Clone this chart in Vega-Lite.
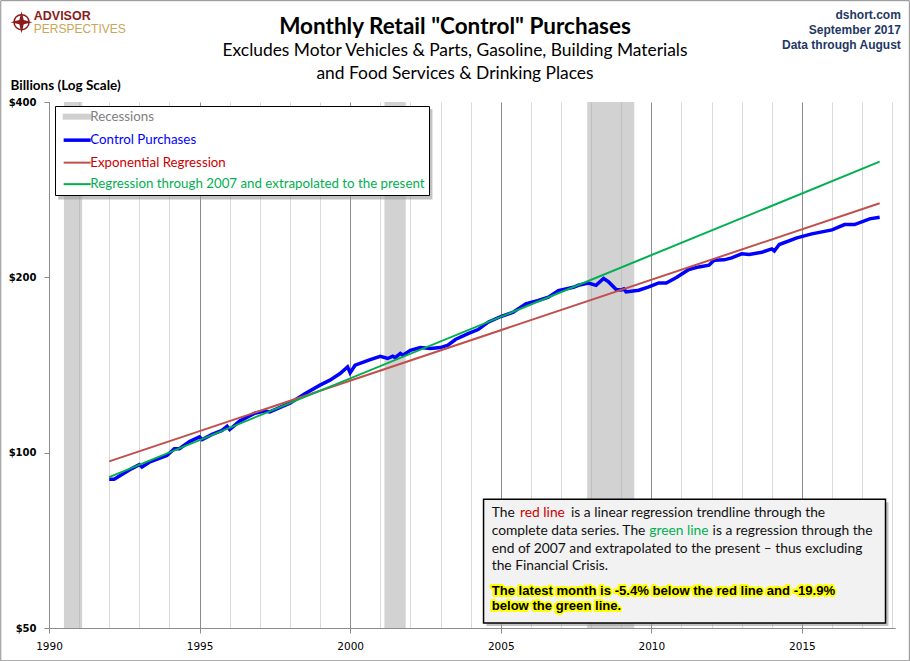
{
  "$schema": "https://vega.github.io/schema/vega-lite/v6.json",
  "width": 846,
  "height": 526,
  "autosize": "none",
  "padding": {"left": 49, "top": 102, "right": 15, "bottom": 33},
  "background": "white",
  "config": {"view": {"stroke": null}, "font": "Lato"},
  "title": {
    "text": "Monthly Retail \"Control\" Purchases",
    "subtitle": ["Excludes Motor Vehicles & Parts, Gasoline, Building Materials", "and Food Services & Drinking Places"],
    "anchor": "middle",
    "frame": "group",
    "dx": -17,
    "offset": -82,
    "font": "Lato",
    "fontSize": 22.5,
    "fontWeight": "bold",
    "color": "black",
    "subtitleFont": "Lato",
    "subtitleFontSize": 17.4,
    "subtitleColor": "black",
    "subtitleLineHeight": 22.6,
    "subtitlePadding": 4
  },
  "datasets": {
    "recessions": [
      {"start": "1990-07-01", "end": "1991-02-07"},
      {"start": "2001-02-20", "end": "2001-11-05"},
      {"start": "2007-11-15", "end": "2009-06-08"}
    ],
    "purchases": [
      {"date": "1992-01-01", "value": 90.0},
      {"date": "1992-03-01", "value": 90.0},
      {"date": "1992-10-01", "value": 93.9},
      {"date": "1993-01-01", "value": 95.4},
      {"date": "1993-02-01", "value": 94.5},
      {"date": "1993-05-01", "value": 96.3},
      {"date": "1993-12-01", "value": 98.9},
      {"date": "1994-03-01", "value": 101.6},
      {"date": "1994-05-01", "value": 101.6},
      {"date": "1994-09-01", "value": 104.5},
      {"date": "1995-01-01", "value": 106.4},
      {"date": "1995-02-01", "value": 105.3},
      {"date": "1995-06-01", "value": 107.5},
      {"date": "1995-10-01", "value": 109.2},
      {"date": "1995-12-01", "value": 111.0},
      {"date": "1996-01-01", "value": 109.6},
      {"date": "1996-05-01", "value": 113.3},
      {"date": "1996-11-01", "value": 116.9},
      {"date": "1997-03-01", "value": 117.9},
      {"date": "1997-05-01", "value": 117.5},
      {"date": "1998-01-01", "value": 121.6},
      {"date": "1998-07-01", "value": 126.2},
      {"date": "1999-01-01", "value": 130.6},
      {"date": "1999-05-01", "value": 133.2},
      {"date": "1999-09-01", "value": 136.7},
      {"date": "1999-12-01", "value": 140.4},
      {"date": "2000-01-01", "value": 137.1},
      {"date": "2000-03-01", "value": 141.3},
      {"date": "2000-09-01", "value": 144.5},
      {"date": "2001-01-01", "value": 146.4},
      {"date": "2001-04-01", "value": 145.1},
      {"date": "2001-06-01", "value": 146.4},
      {"date": "2001-07-01", "value": 145.6},
      {"date": "2001-09-01", "value": 148.0},
      {"date": "2001-10-01", "value": 147.0},
      {"date": "2002-01-01", "value": 149.9},
      {"date": "2002-05-01", "value": 151.5},
      {"date": "2002-09-01", "value": 150.9},
      {"date": "2003-01-01", "value": 151.5},
      {"date": "2003-04-01", "value": 152.9},
      {"date": "2003-07-01", "value": 156.4},
      {"date": "2003-12-01", "value": 160.1},
      {"date": "2004-04-01", "value": 162.7},
      {"date": "2004-08-01", "value": 167.5},
      {"date": "2005-01-01", "value": 171.3},
      {"date": "2005-06-01", "value": 174.2},
      {"date": "2005-11-01", "value": 180.1},
      {"date": "2006-04-01", "value": 182.5},
      {"date": "2006-08-01", "value": 184.9},
      {"date": "2006-12-01", "value": 189.8},
      {"date": "2007-06-01", "value": 192.3},
      {"date": "2007-08-01", "value": 193.8},
      {"date": "2007-12-01", "value": 195.6},
      {"date": "2008-03-01", "value": 193.8},
      {"date": "2008-06-01", "value": 199.1},
      {"date": "2008-08-01", "value": 196.4},
      {"date": "2008-11-01", "value": 190.6},
      {"date": "2009-01-01", "value": 190.3},
      {"date": "2009-02-01", "value": 191.1},
      {"date": "2009-03-01", "value": 188.8},
      {"date": "2009-08-01", "value": 190.1},
      {"date": "2009-12-01", "value": 192.6},
      {"date": "2010-04-01", "value": 195.6},
      {"date": "2010-07-01", "value": 195.6},
      {"date": "2010-11-01", "value": 199.8},
      {"date": "2011-04-01", "value": 206.3},
      {"date": "2011-08-01", "value": 208.4},
      {"date": "2011-12-01", "value": 209.8},
      {"date": "2012-02-01", "value": 214.0},
      {"date": "2012-06-01", "value": 214.3},
      {"date": "2012-09-01", "value": 216.0},
      {"date": "2013-01-01", "value": 219.5},
      {"date": "2013-04-01", "value": 219.0},
      {"date": "2013-09-01", "value": 220.8},
      {"date": "2014-01-01", "value": 223.8},
      {"date": "2014-02-01", "value": 222.0},
      {"date": "2014-04-01", "value": 227.7},
      {"date": "2014-11-01", "value": 233.8},
      {"date": "2015-05-01", "value": 237.5},
      {"date": "2016-01-01", "value": 241.3},
      {"date": "2016-06-01", "value": 246.4},
      {"date": "2016-10-01", "value": 246.4},
      {"date": "2017-04-01", "value": 252.0},
      {"date": "2017-08-01", "value": 253.6}
    ],
    "expRegression": [
      {"date": "1992-01-01", "value": 96.6},
      {"date": "2017-08-01", "value": 268.0}
    ],
    "regression2007": [
      {"date": "1992-01-01", "value": 90.8},
      {"date": "2017-08-01", "value": 316.0}
    ]
  },
  "layer": [
    {
      "data": {"name": "recessions"},
      "mark": {"type": "rect", "color": "#a6a6a6", "opacity": 0.5},
      "encoding": {
        "x": {
          "field": "start",
          "type": "temporal",
          "scale": {"type": "utc", "domain": [{"year": 1990, "month": 1, "date": 1, "utc": true}, {"year": 2018, "month": 2, "date": 3, "utc": true}], "nice": false},
          "axis": {
            "title": null,
            "tickCount": {"interval": "year", "step": 1},
            "labelExpr": "utcyear(datum.value) % 5 === 0 ? utcFormat(datum.value, '%Y') : ''",
            "gridColor": {"condition": {"test": "utcyear(datum.value) % 5 === 0", "value": "#8c8c8c"}, "value": "#d9d9d9"},
            "tickColor": {"condition": {"test": "utcyear(datum.value) % 5 === 0", "value": "#8c8c8c"}, "value": "transparent"},
            "domainColor": "#8c8c8c",
            "tickSize": 5,
            "labelFont": "DejaVu Sans",
            "labelFontSize": 10.5,
            "labelColor": "black",
            "labelPadding": 8,
            "labelFlush": false,
            "labelOverlap": false,
            "labelBound": false
          }
        },
        "x2": {"field": "end"}
      }
    },
    {
      "data": {"values": [{}]},
      "mark": {"type": "rect", "fill": "#9a9a9a", "opacity": 0.6},
      "encoding": {
        "x": {"datum": {"year": 1990, "month": 4, "date": 22, "utc": true}, "type": "temporal"},
        "x2": {"datum": {"year": 2002, "month": 9, "date": 25, "utc": true}},
        "y": {"datum": 388.8, "type": "quantitative"},
        "y2": {"datum": 272.0}
      }
    },
    {
      "data": {"name": "purchases"},
      "mark": {"type": "line", "strokeWidth": 3.5},
      "encoding": {
        "x": {"field": "date", "type": "temporal"},
        "y": {
          "field": "value",
          "type": "quantitative",
          "scale": {"type": "log", "domain": [50, 400], "nice": false},
          "axis": {
            "title": "Billions (Log Scale)",
            "titleAngle": 0,
            "titleAlign": "left",
            "titleBaseline": "middle",
            "titleX": -39,
            "titleY": -17,
            "titleFont": "Lato",
            "titleFontSize": 13.5,
            "titleFontWeight": "bold",
            "titleColor": "black",
            "values": [50, 100, 200, 400],
            "labelExpr": "'$' + datum.value",
            "labelFont": "DejaVu Sans",
            "labelFontSize": 10,
            "labelFontWeight": "bold",
            "labelColor": "black",
            "labelFlush": false,
            "gridColor": "#8c8c8c",
            "domainColor": "#8c8c8c",
            "tickColor": "#8c8c8c",
            "tickSize": 5,
            "labelPadding": 8
          }
        },
        "color": {
          "datum": "Control Purchases",
          "type": "nominal",
          "scale": {
            "domain": ["Recessions", "Control Purchases", "Exponential Regression", "Regression through 2007 and extrapolated to the present"],
            "range": ["#d0d0d0", "#0000ff", "#c0504d", "#00b050"]
          },
          "legend": {
            "title": null,
            "orient": "none",
            "legendX": 6,
            "legendY": 4,
            "fillColor": "white",
            "strokeColor": "black",
            "padding": 4,
            "symbolOffset": 11.5,
            "symbolSize": 400,
            "symbolType": {"expr": "datum.label === 'Recessions' ? 'M-1.3,-0.15H1.3V0.15H-1.3Z' : 'M-1.35,0H1.35'"},
            "symbolStrokeWidth": {"expr": "datum.label === 'Control Purchases' ? 3.5 : datum.label === 'Recessions' ? 3 : 2"},
            "labelOffset": 6.5,
            "rowPadding": 7.5,
            "labelFont": "Lato",
            "labelFontSize": 13.3,
            "labelLimit": 400,
            "labelColor": {"expr": "datum.label === 'Recessions' ? '#808080' : datum.label === 'Control Purchases' ? '#0000ff' : datum.label === 'Exponential Regression' ? '#cc0000' : '#00b050'"}
          }
        }
      }
    },
    {
      "data": {"name": "expRegression"},
      "mark": {"type": "line", "strokeWidth": 2},
      "encoding": {
        "x": {"field": "date", "type": "temporal"},
        "y": {"field": "value", "type": "quantitative"},
        "color": {"datum": "Exponential Regression", "type": "nominal"}
      }
    },
    {
      "data": {"name": "regression2007"},
      "mark": {"type": "line", "strokeWidth": 2},
      "encoding": {
        "x": {"field": "date", "type": "temporal"},
        "y": {"field": "value", "type": "quantitative"},
        "color": {"datum": "Regression through 2007 and extrapolated to the present", "type": "nominal"}
      }
    },
    {
      "data": {"values": [{}]},
      "mark": {"type": "rect", "fill": "#9a9a9a", "opacity": 0.6},
      "encoding": {
        "x": {"datum": {"year": 2004, "month": 7, "date": 12, "utc": true}, "type": "temporal"},
        "x2": {"datum": {"year": 2017, "month": 11, "date": 16, "utc": true}},
        "y": {"datum": 82.2, "type": "quantitative"},
        "y2": {"datum": 50.4}
      }
    },
    {
      "data": {"values": [{}]},
      "mark": {"type": "rect", "fill": "#f2f2f2", "stroke": "black", "strokeWidth": 1.5},
      "encoding": {
        "x": {"datum": {"year": 2004, "month": 6, "date": 6, "utc": true}, "type": "temporal"},
        "x2": {"datum": {"year": 2017, "month": 10, "date": 11, "utc": true}},
        "y": {"datum": 83.2, "type": "quantitative"},
        "y2": {"datum": 51.0}
      }
    },
    {
      "data": {"values": [{"t": "The"}]},
      "mark": {"type": "text", "align": "left", "baseline": "alphabetic", "font": "Lato", "fontSize": 13.8, "color": "#111111"},
      "encoding": {
        "x": {"datum": {"year": 2004, "month": 9, "date": 13, "utc": true}, "type": "temporal"},
        "y": {"datum": 77.55, "type": "quantitative"},
        "text": {"field": "t"}
      }
    },
    {
      "data": {"values": [{"t": "red line"}]},
      "mark": {"type": "text", "align": "left", "baseline": "alphabetic", "font": "Lato", "fontSize": 13.8, "color": "#cc0000"},
      "encoding": {
        "x": {"datum": {"year": 2005, "month": 8, "date": 23, "utc": true}, "type": "temporal"},
        "y": {"datum": 77.55, "type": "quantitative"},
        "text": {"field": "t"}
      }
    },
    {
      "data": {"values": [{"t": "is a  linear regression trendline  through the"}]},
      "mark": {"type": "text", "align": "left", "baseline": "alphabetic", "font": "Lato", "fontSize": 13.8, "color": "#111111"},
      "encoding": {
        "x": {"datum": {"year": 2007, "month": 5, "date": 3, "utc": true}, "type": "temporal"},
        "y": {"datum": 77.55, "type": "quantitative"},
        "text": {"field": "t"}
      }
    },
    {
      "data": {"values": [{"t": "complete data series. The"}]},
      "mark": {"type": "text", "align": "left", "baseline": "alphabetic", "font": "Lato", "fontSize": 13.8, "color": "#111111"},
      "encoding": {
        "x": {"datum": {"year": 2004, "month": 9, "date": 13, "utc": true}, "type": "temporal"},
        "y": {"datum": 72.35, "type": "quantitative"},
        "text": {"field": "t"}
      }
    },
    {
      "data": {"values": [{"t": "green line"}]},
      "mark": {"type": "text", "align": "left", "baseline": "alphabetic", "font": "Lato", "fontSize": 13.8, "color": "#00b050"},
      "encoding": {
        "x": {"datum": {"year": 2009, "month": 12, "date": 7, "utc": true}, "type": "temporal"},
        "y": {"datum": 72.35, "type": "quantitative"},
        "text": {"field": "t"}
      }
    },
    {
      "data": {"values": [{"t": "is a regression through the"}]},
      "mark": {"type": "text", "align": "left", "baseline": "alphabetic", "font": "Lato", "fontSize": 13.8, "color": "#111111"},
      "encoding": {
        "x": {"datum": {"year": 2012, "month": 1, "date": 14, "utc": true}, "type": "temporal"},
        "y": {"datum": 72.35, "type": "quantitative"},
        "text": {"field": "t"}
      }
    },
    {
      "data": {"values": [{"t": ["end of 2007  and extrapolated to the present  \u2013 thus excluding", "the Financial Crisis."]}]},
      "mark": {"type": "text", "align": "left", "baseline": "alphabetic", "font": "Lato", "fontSize": 13.8, "lineHeight": 17.7, "color": "#111111"},
      "encoding": {
        "x": {"datum": {"year": 2004, "month": 9, "date": 13, "utc": true}, "type": "temporal"},
        "y": {"datum": 67.37, "type": "quantitative"},
        "text": {"field": "t"}
      }
    },
    {
      "data": {"values": [{"t": ["The latest month is -5.4%  below the red line and -19.9%", "below the green line."]}]},
      "mark": {"type": "text", "align": "left", "baseline": "alphabetic", "font": "Liberation Sans", "fontSize": 13.1, "fontWeight": "bold", "lineHeight": 15.7, "stroke": "#ffff00", "strokeWidth": 4, "strokeJoin": "round", "color": "#ffff00"},
      "encoding": {
        "x": {"datum": {"year": 2004, "month": 9, "date": 13, "utc": true}, "type": "temporal"},
        "y": {"datum": 57.06, "type": "quantitative"},
        "text": {"field": "t"}
      }
    },
    {
      "data": {"values": [{"t": ["The latest month is -5.4%  below the red line and -19.9%", "below the green line."]}]},
      "mark": {"type": "text", "align": "left", "baseline": "alphabetic", "font": "Liberation Sans", "fontSize": 13.1, "fontWeight": "bold", "lineHeight": 15.7, "color": "black"},
      "encoding": {
        "x": {"datum": {"year": 2004, "month": 9, "date": 13, "utc": true}, "type": "temporal"},
        "y": {"datum": 57.06, "type": "quantitative"},
        "text": {"field": "t"}
      }
    },
    {
      "data": {"values": [{"t": ["dshort.com", "September 2017", "Data through August"]}]},
      "mark": {"type": "text", "align": "right", "baseline": "alphabetic", "font": "Liberation Sans", "fontSize": 12, "fontWeight": "bold", "lineHeight": 15, "color": "#1f3864"},
      "encoding": {
        "x": {"datum": {"year": 2018, "month": 4, "date": 15, "utc": true}, "type": "temporal"},
        "y": {"datum": 556.4, "type": "quantitative"},
        "text": {"field": "t"}
      }
    },
    {
      "data": {"values": [{"t": "ADVISOR"}]},
      "mark": {"type": "text", "align": "left", "baseline": "alphabetic", "font": "Liberation Sans", "fontSize": 12.5, "fontWeight": "bold", "color": "#8b1c1c"},
      "encoding": {
        "x": {"datum": {"year": 1989, "month": 6, "date": 30, "utc": true}, "type": "temporal"},
        "y": {"datum": 553.0, "type": "quantitative"},
        "text": {"field": "t"}
      }
    },
    {
      "data": {"values": [{"t": "PERSPECTIVES"}]},
      "mark": {"type": "text", "align": "left", "baseline": "alphabetic", "font": "Liberation Sans", "fontSize": 12, "color": "#c9a65b"},
      "encoding": {
        "x": {"datum": {"year": 1989, "month": 6, "date": 30, "utc": true}, "type": "temporal"},
        "y": {"datum": 524.5, "type": "quantitative"},
        "text": {"field": "t"}
      }
    },
    {
      "data": {"values": [{}]},
      "mark": {"type": "point", "shape": "circle", "size": 225, "filled": false, "stroke": "#8b1c1c", "strokeWidth": 1.5, "opacity": 1},
      "encoding": {
        "x": {"datum": {"year": 1989, "month": 2, "date": 2, "utc": true}, "type": "temporal"},
        "y": {"datum": 548.5, "type": "quantitative"}
      }
    },
    {
      "data": {"values": [{}]},
      "mark": {"type": "point", "shape": "M0,-1L0.2,-0.2L1,0L0.2,0.2L0,1L-0.2,0.2L-1,0L-0.2,-0.2Z", "size": 484, "filled": true, "fill": "#8b1c1c", "opacity": 1},
      "encoding": {
        "x": {"datum": {"year": 1989, "month": 2, "date": 2, "utc": true}, "type": "temporal"},
        "y": {"datum": 548.5, "type": "quantitative"}
      }
    },
    {
      "data": {"values": [{}]},
      "mark": {"type": "rect", "fill": null, "stroke": "#8c8c8c", "strokeWidth": 1},
      "encoding": {
        "x": {"datum": {"year": 1988, "month": 5, "date": 26, "utc": true}, "type": "temporal"},
        "x2": {"datum": {"year": 2018, "month": 7, "date": 27, "utc": true}},
        "y": {"datum": 597.1, "type": "quantitative"},
        "y2": {"datum": 43.92}
      }
    }
  ]
}
